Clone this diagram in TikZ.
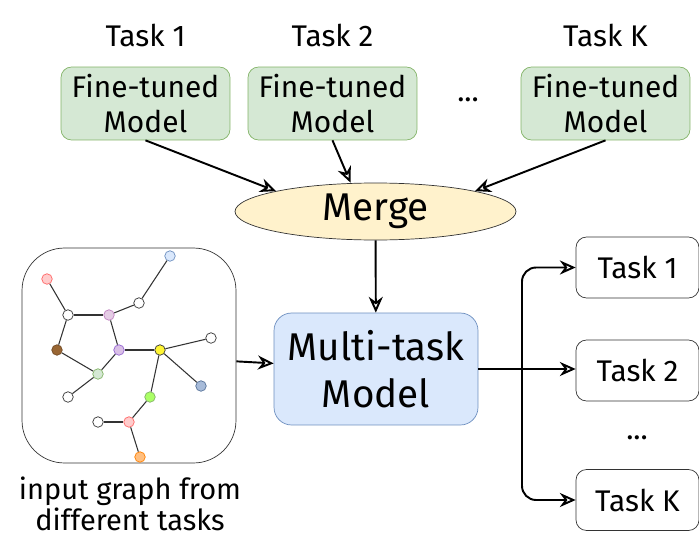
\documentclass[tikz,border=0pt]{standalone}
\usepackage{fontspec}
\setmainfont{Fira Sans}
\usetikzlibrary{shapes.geometric, arrows.meta, positioning}
\definecolor{finegreen}{HTML}{D5E8D4}
\definecolor{fineline}{HTML}{82B366}
\definecolor{mergefill}{HTML}{FFF2CC}
\definecolor{mergeline}{HTML}{D6B656}
\definecolor{multifill}{HTML}{DAE8FC}
\definecolor{multiline}{HTML}{6C8EBF}
\tikzstyle{arrow} = [line width=1.1pt,-{Stealth[open,length=9pt,width=8pt]}]
\tikzstyle{finetuned} = [rectangle, rounded corners=6pt, minimum width=3.38cm, minimum height=1.46cm, text centered, align=center, draw=fineline, fill=finegreen, font=\fontsize{17}{20}\selectfont, inner sep=0pt]
\tikzstyle{merge} = [ellipse, minimum width=5.62cm, minimum height=1.14cm, draw=black!80, fill=mergefill, font=\fontsize{22}{24}\selectfont, inner sep=0pt]
\tikzstyle{multitask} = [rectangle, rounded corners=10pt, minimum width=4.08cm, minimum height=2.24cm, align=center, draw=multiline, fill=multifill, font=\fontsize{22}{27}\selectfont, inner sep=0pt]
\tikzstyle{taskbox} = [rectangle, rounded corners=6pt, minimum width=2.46cm, minimum height=1.22cm, draw=black!80, font=\fontsize{17}{20}\selectfont, inner sep=0pt]
\tikzstyle{tasklabel} = [font=\fontsize{17}{20}\selectfont]
\tikzstyle{gnode} = [circle, draw=black!80, minimum size=0.21cm, inner sep=0pt, fill=white]
\tikzstyle{gedge} = [black!80, semithick]

\begin{document}
\begin{tikzpicture}[x=0.02cm, y=-0.02cm]
        \useasboundingbox (0,0) rectangle (699,537);

        % fine-tuned models
        \node (fine1) [finetuned] at (145.5,103.5) {Fine-tuned\\Model};
        \node (fine2) [finetuned] at (332.5,103.5) {Fine-tuned\\Model};
        \node (fineK) [finetuned] at (605.5,103.5) {Fine-tuned\\Model};
        \node (dots1) [tasklabel] at (468,100) {...};
        \node (label1) [tasklabel] at (145.5,35) {Task 1};
        \node (label2) [tasklabel] at (332.5,35) {Task 2};
        \node (labelK) [tasklabel] at (605.5,35) {Task K};

        \node (merge) [merge] at (375.5,211.5) {Merge};
        \node (multi) [multitask] at (376,369) {Multi-task\\Model};

        % outputs
        \node (out1) [taskbox] at (637.5,267.5) {Task 1};
        \node (out2) [taskbox] at (637.5,370.5) {Task 2};
        \node (outK) [taskbox] at (637.5,500) {Task K};
        \node (dots2) [tasklabel] at (637,438) {...};

        % input graph
        \node (graphbox) [rectangle, rounded corners=0.85cm, draw=black!80, minimum width=4.28cm, minimum height=4.3cm] at (129,355.5) {};
        \node (caption) [font=\fontsize{16.5}{18}\selectfont, align=center] at (130,504) {input graph from\\different tasks};

        \node (gblue) [gnode, fill=multifill, draw=multiline] at (170,256) {};
        \node (gpinkA) [gnode, fill=red!20, draw=red!60] at (47,279) {};
        \node (gwa) [gnode] at (139,303) {};
        \node (gwb) [gnode] at (68,315) {};
        \node (gpurple) [gnode, fill=violet!20, draw=violet!50] at (109,315) {};
        \node (gbrown) [gnode, fill=brown!80!black, draw=brown!60!black] at (57,350) {};
        \node (glav) [gnode, fill=blue!20!violet!25, draw=blue!40!violet!60] at (119,350) {};
        \node (gyellow) [gnode, fill=yellow!80] at (160,350) {};
        \node (gwc) [gnode] at (211,338) {};
        \node (ggreen) [gnode, fill=finegreen, draw=fineline] at (98,374) {};
        \node (gsteel) [gnode, fill=multiline!60, draw=multiline!80!black] at (201,386) {};
        \node (gwd) [gnode] at (68,397) {};
        \node (glime) [gnode, fill=lime!60!green!60, draw=fineline] at (150,397) {};
        \node (gwe) [gnode] at (98,422) {};
        \node (gpinkB) [gnode, fill=red!20, draw=red!60] at (129,422) {};
        \node (gorange) [gnode, fill=orange!50, draw=orange] at (140,457) {};

        \draw [gedge] (gblue) -- (gwa);
        \draw [gedge] (gwa) -- (gpurple);
        \draw [gedge] (gpinkA) -- (gwb);
        \draw [gedge] (gwb) -- (gpurple);
        \draw [gedge] (gwb) -- (gbrown);
        \draw [gedge] (gpurple) -- (glav);
        \draw [gedge] (gbrown) -- (ggreen);
        \draw [gedge] (glav) -- (ggreen);
        \draw [gedge] (glav) -- (gyellow);
        \draw [gedge] (ggreen) -- (gwd);
        \draw [gedge] (gyellow) -- (gwc);
        \draw [gedge] (gyellow) -- (gsteel);
        \draw [gedge] (gyellow) -- (glime);
        \draw [gedge] (glime) -- (gpinkB);
        \draw [gedge] (gwe) -- (gpinkB);
        \draw [gedge] (gpinkB) -- (gorange);

        % arrows
        \draw [arrow] (fine1.south) -- (merge.north west);
        \draw [arrow] (fine2.south) -- ([xshift=-0.5cm]merge.north);
        \draw [arrow] (fineK.south) -- (merge.north east);
        \draw [arrow] (merge) -- (multi);
        \draw [arrow] (graphbox) -- (multi);
        \coordinate (split) at (522,369);
        \draw [line width=1.1pt] (multi.east) -- (split);
        \draw [arrow, rounded corners=8pt] (split) |- (out1);
        \draw [arrow] (split) -- (out2.west |- split);
        \draw [arrow, rounded corners=8pt] (split) |- (outK);
    \end{tikzpicture}
\end{document}
